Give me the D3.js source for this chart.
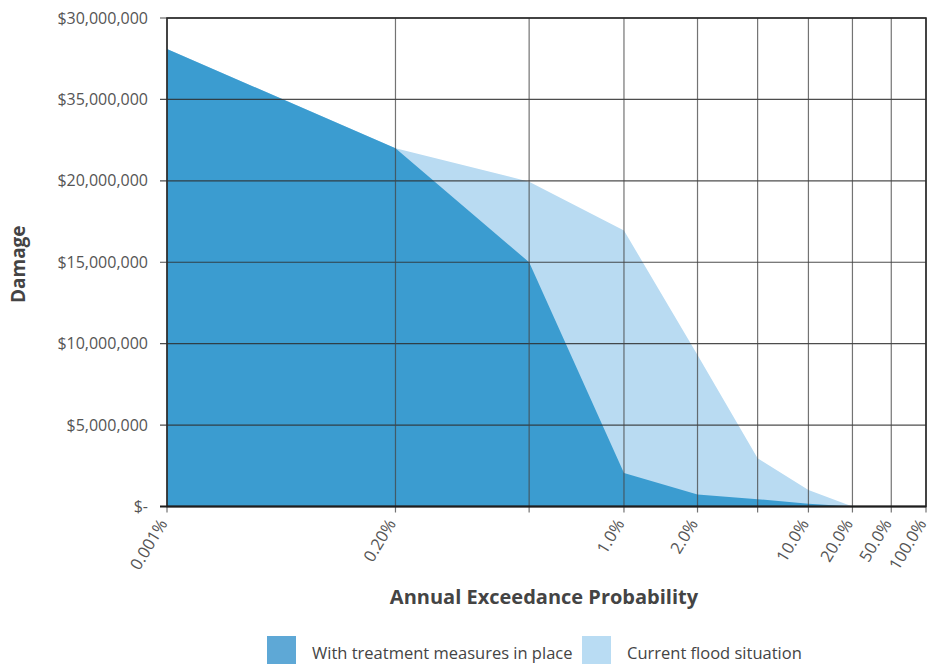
<!DOCTYPE html>
<html>
<head>
<meta charset="utf-8">
<script src="https://cdn.jsdelivr.net/npm/d3@7"></script>
<style>
  html, body { margin: 0; padding: 0; background: #ffffff; }
  svg { display: block; font-family: "Open Sans", "Noto Sans", sans-serif; }
</style>
</head>
<body>
<svg id="chart" width="932" height="664"></svg>
<script>
// ---- data ----
const categories = ["0.001%", "0.20%", "", "1.0%", "2.0%", "", "10.0%", "20.0%", "50.0%", "100.0%"];
const withTreatment = [28100000, 22000000, 15000000, 2050000, 740000, 450000, 170000, 0, 0, 0];
const currentFlood = [28100000, 22000000, 19950000, 16950000, 9300000, 2970000, 1020000, 0, 0, 0];
const yTickValues = [0, 5000000, 10000000, 15000000, 20000000, 25000000, 30000000];
const yTickLabels = ["$-", "$5,000,000", "$10,000,000", "$15,000,000", "$20,000,000", "$35,000,000", "$30,000,000"];
const seriesNames = ["With treatment measures in place", "Current flood situation"];

// ---- layout ----
const mLeft = 167, mRight = 926, mTop = 18, mBottom = 506.5;
const darkFill = "#3b9cd0", lightFill = "#b9dbf2";
const darkSwatch = "#5ea8d6", lightSwatch = "#b9dcf3";

const svg = d3.select("#chart");

// positions are category index 1..n on a log scale
const x = d3.scaleLog().domain([1, categories.length]).range([mLeft, mRight]);
const y = d3.scaleLinear().domain([0, 30000000]).range([mBottom, mTop]);
const idx = categories.map((c, i) => i + 1);

const area = d3.area()
  .x(d => x(d.i))
  .y0(y(0))
  .y1(d => y(d.v));

// areas
svg.append("path")
  .datum(idx.map((i, k) => ({ i, v: currentFlood[k] })))
  .attr("d", area)
  .attr("fill", lightFill);
svg.append("path")
  .datum(idx.map((i, k) => ({ i, v: withTreatment[k] })))
  .attr("d", area)
  .attr("fill", darkFill);

// horizontal gridlines
svg.append("g")
  .selectAll("line")
  .data(yTickValues)
  .join("line")
  .attr("x1", mLeft - 7).attr("x2", mRight)
  .attr("y1", d => y(d)).attr("y2", d => y(d))
  .attr("stroke", "#2e2e2e")
  .attr("stroke-opacity", 0.85)
  .attr("stroke-width", 1.2);

// vertical gridlines + ticks
svg.append("g")
  .selectAll("line")
  .data(idx)
  .join("line")
  .attr("x1", d => x(d)).attr("x2", d => x(d))
  .attr("y1", mTop).attr("y2", mBottom + 6)
  .attr("stroke", "#444")
  .attr("stroke-opacity", 0.75)
  .attr("stroke-width", 1.2);

// frame
svg.append("rect")
  .attr("x", mLeft).attr("y", mTop)
  .attr("width", mRight - mLeft).attr("height", mBottom - mTop)
  .attr("fill", "none")
  .attr("stroke", "#2b2b2b")
  .attr("stroke-width", 1.6);
svg.append("line")
  .attr("x1", mLeft - 7).attr("x2", mRight)
  .attr("y1", mBottom).attr("y2", mBottom)
  .attr("stroke", "#1e1e1e").attr("stroke-width", 2.2);

// y tick labels
svg.append("g")
  .selectAll("text")
  .data(yTickValues)
  .join("text")
  .attr("x", mLeft - 19)
  .attr("y", d => y(d))
  .attr("dy", "0.35em")
  .attr("text-anchor", "end")
  .attr("font-size", 16)
  .attr("fill", "#555")
  .text((d, i) => yTickLabels[i]);

// x tick labels
svg.append("g")
  .selectAll("text")
  .data(idx)
  .join("text")
  .attr("transform", d => `translate(${x(d) + 1},${mBottom + 17}) rotate(-59)`)
  .attr("text-anchor", "end")
  .attr("font-size", 16.5)
  .attr("fill", "#555")
  .text((d, i) => categories[i]);

// axis titles
svg.append("text")
  .attr("x", 544)
  .attr("y", 604)
  .attr("text-anchor", "middle")
  .attr("font-size", 20)
  .attr("font-weight", "bold")
  .attr("fill", "#444")
  .text("Annual Exceedance Probability");

svg.append("text")
  .attr("transform", `translate(25,${(mTop + mBottom) / 2 + 2}) rotate(-90)`)
  .attr("text-anchor", "middle")
  .attr("font-size", 19)
  .attr("font-weight", "bold")
  .attr("fill", "#444")
  .text("Damage");

// legend
const legend = svg.append("g");
const legendX = [267, 582];
const swatches = [darkSwatch, lightSwatch];
seriesNames.forEach((name, i) => {
  legend.append("rect")
    .attr("x", legendX[i]).attr("y", 636)
    .attr("width", 29).attr("height", 30)
    .attr("fill", swatches[i]);
  legend.append("text")
    .attr("x", legendX[i] + 45).attr("y", 659)
    .attr("font-size", 16.5)
    .attr("fill", "#444")
    .text(name);
});
</script>
</body>
</html>
